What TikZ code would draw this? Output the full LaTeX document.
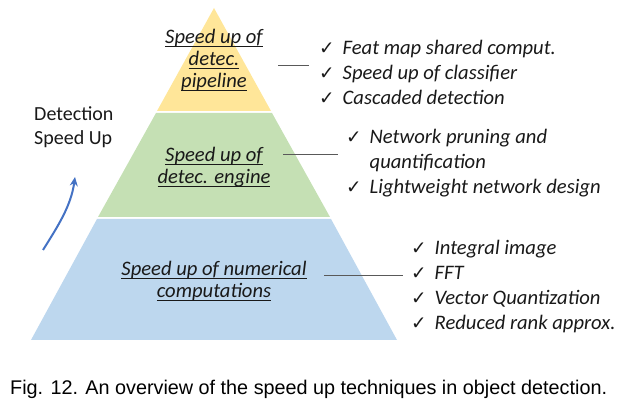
\documentclass[tikz,border=0pt]{standalone}
\usepackage{fontspec}
\setmainfont{Carlito}
\newfontfamily\capfont{Liberation Sans}
\newfontfamily\tickfont{DejaVu Sans}
\usetikzlibrary{arrows.meta}

\definecolor{Pipe}{HTML}{FFE699}
\definecolor{Engine}{HTML}{C5E0B4}
\definecolor{Numer}{HTML}{BDD7EE}
\definecolor{Curve}{HTML}{4472C4}
\definecolor{Link}{HTML}{595959}

\newcommand{\tick}{{\tickfont\upshape\fontsize{18.5}{18}\selectfont ✓}}
\newcommand{\undl}[1]{\setbox0\hbox{#1}\rlap{\rule[-3.8pt]{\wd0}{1.1pt}}\box0}

\tikzset{
  level/.style={font=\itshape\fontsize{20.6}{22}\selectfont, align=center, inner sep=0pt, text=black!90},
  items/.style={font=\itshape\fontsize{20.6}{24.8}\selectfont, inner sep=0pt, anchor=base west, text=black!90},
  link/.style={line width=1, color=Link}
}

\begin{document}
\begin{tikzpicture}[x=1pt, y=-1pt]

\useasboundingbox (0,0) rectangle (625,411);

%%%%%%%%%% Points de la pyramide %%%%%%%%%%

 \coordinate (0) at (214,8) ;
 \coordinate (1) at (157,111) ;
 \coordinate (2) at (271,111) ;

 \coordinate (3) at (156,113) ;
 \coordinate (4) at (272,113) ;
 \coordinate (5) at (98,217) ;
 \coordinate (6) at (330,217) ;

 \coordinate (7) at (97,219) ;
 \coordinate (8) at (331,219) ;
 \coordinate (9) at (31,340) ;
 \coordinate (10) at (397,340) ;

  \fill [color=Pipe] (0) -- (1) -- (2) -- cycle ;
  \fill [color=Engine] (3) -- (4) -- (6) -- (5) -- cycle ;
  \fill [color=Numer] (7) -- (8) -- (10) -- (9) -- cycle ;

 %%%%%%%%%%% Levels %%%%%%%%%%%
 \node (pipe) at (214,60) [level] {\undl{Speed up of}\\\undl{detec.}\\\undl{pipeline}};
 \node (engine) at (214,167) [level] {\undl{Speed up of}\\\undl{detec. engine}};
 \node (numer) at (214,281) [level] {\undl{Speed up of numerical}\\\undl{computations}};

 %%%%%%%%%%% Links %%%%%%%%%%%
 \coordinate (11) at (278,66) ;
 \coordinate (12) at (309,66) ;
 \coordinate (13) at (283,155) ;
 \coordinate (14) at (338,155) ;
 \coordinate (15) at (324,276) ;
 \coordinate (16) at (403,276) ;

 \draw [link] (11) -- (12) ;
 \draw [link] (13) -- (14) ;
 \draw [link] (15) -- (16) ;

 %%%%%%%%%%% Techniques %%%%%%%%%%%
 \node (pipelist) at (319,55) [items] {\begin{tabular}[t]{@{}l@{\hspace{8pt}}l@{}}
   \tick & Feat map shared comput.\\
   \tick & Speed up of classifier\\
   \tick & Cascaded detection
 \end{tabular}};
 \node (enginelist) at (346,144) [items] {\begin{tabular}[t]{@{}l@{\hspace{8pt}}l@{}}
   \tick & Network pruning and\\
         & quantification\\
   \tick & Lightweight network design
 \end{tabular}};
 \node (numerlist) at (411,255) [items] {\begin{tabular}[t]{@{}l@{\hspace{8pt}}l@{}}
   \tick & Integral image\\
   \tick & FFT\\
   \tick & Vector Quantization\\
   \tick & Reduced rank approx.
 \end{tabular}};

 %%%%%%%%%%% Speed up arrow %%%%%%%%%%%
 \node (speed) at (34,145) [anchor=base west, inner sep=0pt, align=left, font=\fontsize{20}{24}\selectfont, text=black!90] {Detection\\Speed Up};
 \coordinate (17) at (43,250) ;
 \coordinate (18) at (75,177) ;
 \draw [line width=2, color=Curve, -{Stealth[length=9pt, width=8pt]}] (17) .. controls (58,226) and (71,206) .. (18) ;

 %%%%%%%%%%% Caption %%%%%%%%%%%
 \node (caption) at (10,395) [anchor=base west, inner sep=0pt, font=\capfont\fontsize{19.8}{22}\selectfont] {Fig. 12. An overview of the speed up techniques in object detection.};

\end{tikzpicture}
\end{document}
